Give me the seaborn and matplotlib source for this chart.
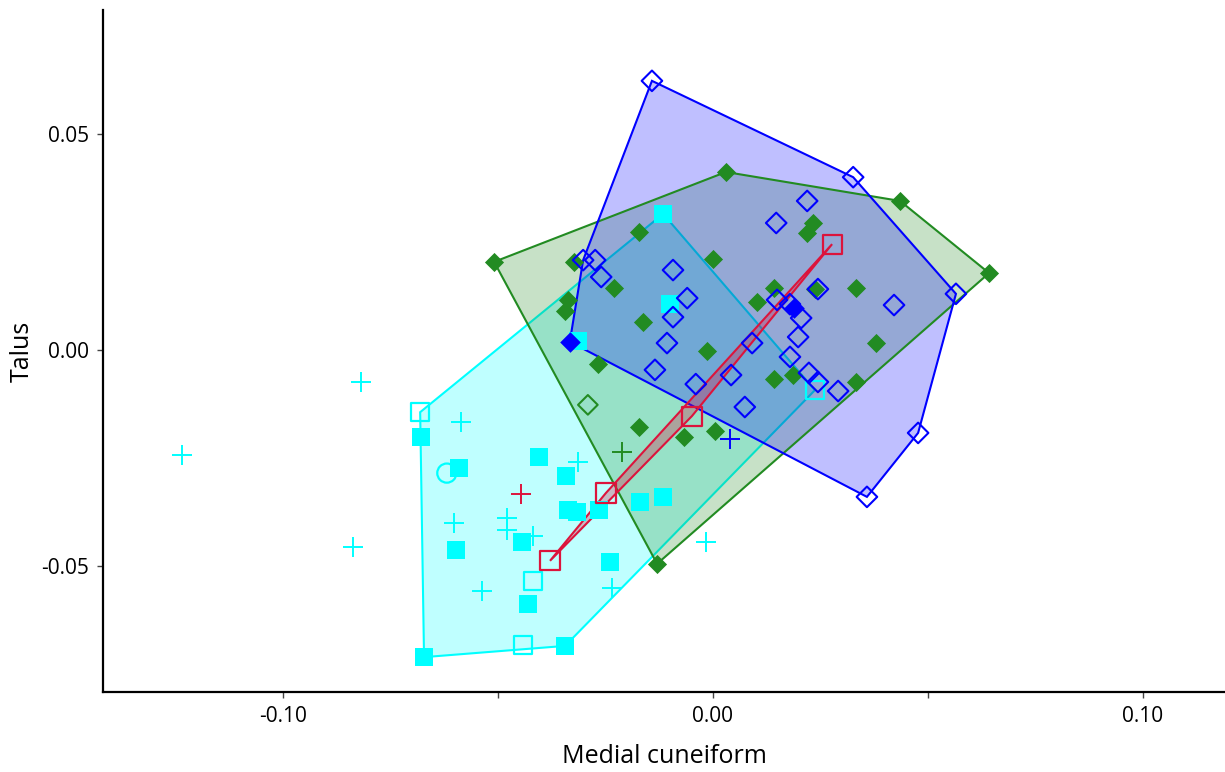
import numpy as np
import pandas as pd
import seaborn as sns
import matplotlib.pyplot as plt

sns.set_style("ticks")
plt.rcParams['font.family'] = ['Open Sans', 'DejaVu Sans']
plt.rcParams['text.color'] = 'black'
plt.rcParams['axes.labelcolor'] = 'black'
plt.rcParams['xtick.color'] = 'black'
plt.rcParams['ytick.color'] = 'black'

# cyan group (squares) - filled and open, hull drawn round both
cyan_fill_x = [-0.0116, -0.0100, -0.0314, -0.0679, -0.0591, -0.0405, -0.0342, -0.0337, -0.0316,
               -0.0265, -0.0170, -0.0116, -0.0598, -0.0444, -0.0240, -0.0430, -0.0344, -0.0672]
cyan_fill_y = [0.0315, 0.0106, 0.0021, -0.0201, -0.0273, -0.0248, -0.0292, -0.0370, -0.0375,
               -0.0370, -0.0352, -0.0340, -0.0463, -0.0444, -0.0491, -0.0588, -0.0685, -0.0711]
cyan_open_x = [-0.0681, -0.0419, -0.0442, 0.0237]
cyan_open_y = [-0.0144, -0.0535, -0.0683, -0.0093]
cyan_circle_x = [-0.0619]
cyan_circle_y = [-0.0285]
cyan_cross_x = [-0.0819, -0.1235, -0.0837, -0.0586, -0.0314, -0.0602, -0.0479, -0.0479,
                -0.0419, -0.0537, -0.0235, -0.0016]
cyan_cross_y = [-0.0074, -0.0243, -0.0456, -0.0167, -0.0259, -0.0400, -0.0389, -0.0417,
                -0.0431, -0.0558, -0.0551, -0.0444]

# green group (diamonds)
green_fill_x = [-0.0509, 0.0030, 0.0435, 0.0642, -0.0130, -0.0172, -0.0323, 0.0000, -0.0230,
                -0.0337, -0.0344, -0.0163, -0.0014, -0.0267, -0.0172, -0.0067, 0.0005, 0.0233,
                0.0219, 0.0142, 0.0102, 0.0237, 0.0333, 0.0379, 0.0142, 0.0186, 0.0333]
green_fill_y = [0.0204, 0.0412, 0.0345, 0.0178, -0.0495, 0.0273, 0.0204, 0.0211, 0.0144,
                0.0116, 0.0090, 0.0065, -0.0002, -0.0032, -0.0178, -0.0201, -0.0188, 0.0294,
                0.0271, 0.0144, 0.0111, 0.0141, 0.0144, 0.0016, -0.0067, -0.0058, -0.0074]
green_open_x = [-0.0291]
green_open_y = [-0.0127]

# blue group (diamonds)
blue_open_x = [-0.0142, 0.0326, 0.0565, 0.0477, 0.0358, -0.0302, -0.0274, -0.0260, -0.0093,
               -0.0060, -0.0093, -0.0107, -0.0135, -0.0040, 0.0091, 0.0042, 0.0074, 0.0147,
               0.0219, 0.0244, 0.0149, 0.0179, 0.0205, 0.0198, 0.0179, 0.0421, 0.0223, 0.0244,
               0.0291]
blue_open_y = [0.0623, 0.0400, 0.0130, -0.0192, -0.0340, 0.0208, 0.0208, 0.0169, 0.0185,
               0.0120, 0.0076, 0.0016, -0.0046, -0.0079, 0.0016, -0.0058, -0.0132, 0.0294,
               0.0345, 0.0141, 0.0116, 0.0106, 0.0074, 0.0030, -0.0016, 0.0104, -0.0053, -0.0074,
               -0.0095]
blue_fill_x = [-0.0333, 0.0188]
blue_fill_y = [0.0019, 0.0097]

# red group (open squares)
red_x = [-0.0379, -0.0249, -0.0049, 0.0277]
red_y = [-0.0488, -0.0331, -0.0153, 0.0245]

# single crosses in other colours
red_cross = (-0.0447, -0.0333)
green_cross = (-0.0212, -0.0236)
blue_cross = (0.0040, -0.0206)

CYAN = '#00FFFF'
GREEN = '#228B22'
BLUE = '#0000FF'
RED = '#DC143C'


def hull(xs, ys):
    pts = sorted(set(zip(xs, ys)))
    def cross(o, a, b):
        return (a[0]-o[0])*(b[1]-o[1]) - (a[1]-o[1])*(b[0]-o[0])
    lower, upper = [], []
    for p in pts:
        while len(lower) >= 2 and cross(lower[-2], lower[-1], p) <= 0:
            lower.pop()
        lower.append(p)
    for p in reversed(pts):
        while len(upper) >= 2 and cross(upper[-2], upper[-1], p) <= 0:
            upper.pop()
        upper.append(p)
    h = np.array(lower[:-1] + upper[:-1])
    return h[:, 0], h[:, 1]


fig = plt.figure(figsize=(12.25, 7.72), dpi=100)
ax = fig.add_axes([103/1225, 80/772, 1 - 103/1225, 1 - 90/772])

# (x, y, colour, fill alpha, zorder of fill, zorder of edge)
groups = [
    (cyan_fill_x + cyan_open_x, cyan_fill_y + cyan_open_y, CYAN, 0.25, 1.0, 1.05),
    (green_fill_x + green_open_x, green_fill_y + green_open_y, GREEN, 0.25, 1.1, 2.0),
    (blue_open_x + blue_fill_x, blue_open_y + blue_fill_y, BLUE, 0.25, 1.2, 2.1),
    (red_x, red_y, RED, 0.3, 2.2, 2.3),
]
for gx, gy, c, a, zf, ze in groups:
    hx, hy = hull(gx, gy)
    ax.fill(hx, hy, facecolor=c, alpha=a, edgecolor='none', zorder=zf)
    ax.fill(hx, hy, facecolor='none', edgecolor=c, linewidth=1.5, zorder=ze)


def pts(x, y, **kw):
    sns.scatterplot(x=x, y=y, ax=ax, zorder=3, legend=False, **kw)


# cyan
pts(cyan_cross_x, cyan_cross_y, marker='+', color=CYAN, s=210, linewidth=1.4)
pts(cyan_circle_x, cyan_circle_y, marker='o', s=190, facecolor='none', edgecolor=CYAN, linewidth=1.6)
pts(cyan_fill_x, cyan_fill_y, marker='s', s=155, color=CYAN, edgecolor=CYAN, linewidth=0)
pts(cyan_open_x, cyan_open_y, marker='s', s=175, facecolor='none', edgecolor=CYAN, linewidth=1.6)
# green
pts(green_fill_x, green_fill_y, marker='D', s=95, color=GREEN, edgecolor=GREEN, linewidth=0)
pts(green_open_x, green_open_y, marker='D', s=100, facecolor='none', edgecolor=GREEN, linewidth=1.5)
# blue
pts(blue_open_x, blue_open_y, marker='D', s=110, facecolor='none', edgecolor=BLUE, linewidth=1.5)
pts(blue_fill_x, blue_fill_y, marker='D', s=110, color=BLUE, edgecolor=BLUE, linewidth=0)
# red
pts(red_x, red_y, marker='s', s=190, facecolor='none', edgecolor=RED, linewidth=1.6)
# odd crosses
for (cx, cy), c in [(red_cross, RED), (green_cross, GREEN), (blue_cross, BLUE)]:
    pts([cx], [cy], marker='+', color=c, s=210, linewidth=1.4)

ax.set_xlim(-0.14186, 0.11907)
ax.set_ylim(-0.07917, 0.0787)
ax.set_xticks([-0.10, -0.05, 0.00, 0.05, 0.10])
ax.set_xticklabels(['-0.10', '', '0.00', '', '0.10'])
ax.set_yticks([-0.05, 0.00, 0.05])
ax.set_yticklabels(['-0.05', '0.00', '0.05'])
ax.tick_params(axis='both', labelsize=15, length=4, width=1, color='#444444', pad=6)
sns.despine(ax=ax)
for sp in ['left', 'bottom']:
    ax.spines[sp].set_linewidth(1.6)
    ax.spines[sp].set_color('black')
ax.set_xlabel('Medial cuneiform', fontsize=18, labelpad=12)
ax.set_ylabel('Talus', fontsize=18, labelpad=5)

plt.savefig('out.png', dpi=100)
